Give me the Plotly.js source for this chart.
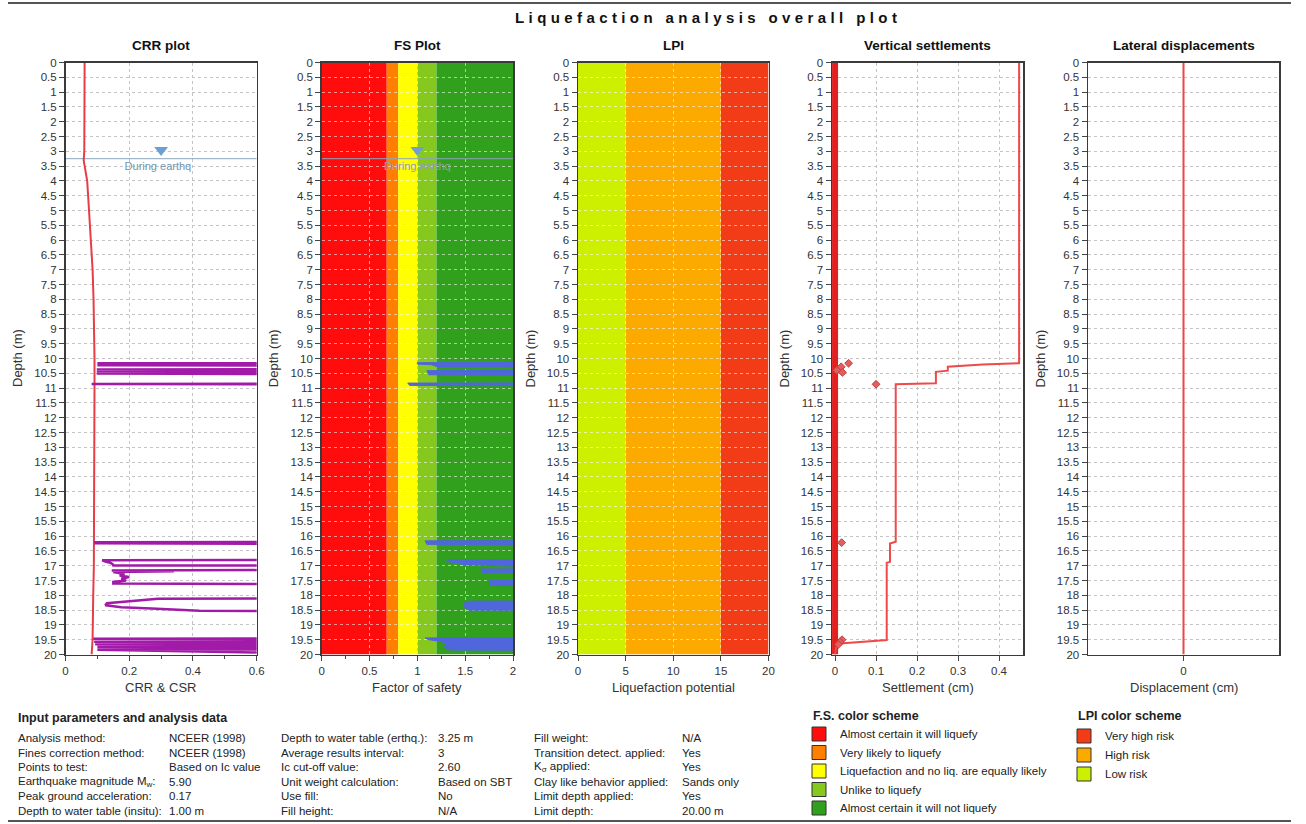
<!DOCTYPE html>
<html><head><meta charset="utf-8">
<script src="https://cdn.plot.ly/plotly-3.0.1.min.js"></script>
<style>html,body{margin:0;padding:0;background:#fff}#chart{width:1306px;height:824px}</style>
</head><body><div id="chart"></div>
<script>
// ---------------- data ----------------
const depthRange = [0, 20];
const waterTableDepth = 3.25;

// CSR (red line, CRR plot)
const csrDepth = [0, 0.5, 1, 2, 3, 3.3, 3.5, 3.8, 4, 4.5, 5, 5.5, 6, 7, 8, 9, 10, 11, 12, 14, 16, 17, 18, 19, 19.5, 20];
const csrValue = [0.060, 0.060, 0.059, 0.059, 0.059, 0.057, 0.060, 0.063, 0.068, 0.071, 0.074, 0.077, 0.081, 0.085, 0.088, 0.090, 0.091, 0.091, 0.091, 0.090, 0.090, 0.089, 0.087, 0.086, 0.085, 0.082];

// CRR (purple line, values beyond axis are off-chart)
const crrDepth = [10.00,10.155,10.16,10.175,10.215,10.225,10.245,
  10.36,10.37,10.40,10.43,10.44,10.47,10.50,10.51,10.53,
  10.85,10.86,10.88,
  16.19,16.21,16.24,16.28,
  16.80,16.82,16.86,16.90,16.95,16.99,17.00,
  17.14,17.16,17.19,17.21,17.28,17.33,17.38,17.44,17.50,17.55,17.60,17.63,
  18.10,18.12,18.20,18.27,18.34,18.40,18.45,18.49,18.52,18.55,
  19.45,19.47,19.50,19.55,19.57,19.60,19.63,19.65,19.69,19.73,19.75,19.79,19.82,19.84,19.86,20.00];
const crrValue = [1.0,1.0,0.100,1.0,1.0,0.100,1.0,
  1.0,0.098,1.0,1.0,0.098,1.0,1.0,0.098,1.0,
  1.0,0.082,1.0,
  1.0,0.094,0.094,1.0,
  1.0,0.115,0.125,0.140,0.148,0.150,1.0,
  1.0,0.145,0.340,0.150,0.185,0.170,0.200,0.175,0.190,0.150,0.150,1.0,
  1.0,0.290,0.200,0.130,0.125,0.175,0.270,0.370,0.420,1.0,
  1.0,0.087,1.0,1.0,0.090,1.0,1.0,0.093,1.0,1.0,0.100,1.0,1.0,0.100,1.0,1.0];

// Factor of safety (blue)
const fsDepth = [10.00,10.13,10.14,10.19,10.21,10.27,10.28,
  10.40,10.41,10.55,10.56,
  10.82,10.83,10.91,10.92,
  16.15,16.16,16.28,16.29,
  16.79,16.80,16.88,16.97,16.98,
  17.10,17.11,17.24,17.25,
  17.49,17.50,17.67,17.68,
  18.18,18.20,18.28,18.42,18.50,18.51,
  19.42,19.44,19.50,19.56,19.66,19.76,19.85,19.86,20.00];
const fsValue = [3,3,1.00,1.00,1.15,1.20,3,
  3,1.10,1.12,3,
  3,0.90,0.92,3,
  3,1.08,1.10,3,
  3,1.30,1.35,1.50,3,
  3,1.66,1.68,3,
  3,1.75,1.76,3,
  3,1.55,1.48,1.50,1.55,3,
  3,1.08,1.12,1.25,1.30,1.28,1.35,3,3];

// Vertical settlements
const settleDepth = [0, 10.16, 10.20, 10.25, 10.28, 10.41, 10.45, 10.84, 10.87, 16.19, 16.25, 16.87, 16.90, 19.51, 19.62, 19.70, 19.80, 20.0];
const settleValue = [0.449, 0.449, 0.360, 0.300, 0.275, 0.275, 0.246, 0.246, 0.148, 0.148, 0.134, 0.134, 0.126, 0.126, 0.020, 0.004, 0.002, 0.0];
const settleZeroDepth = [0, 20];
const settleZeroValue = [0, 0];
const settlePtDepth = [10.16, 10.28, 10.40, 10.47, 10.87, 16.22, 19.50, 19.58, 19.66];
const settlePtValue = [0.033, 0.015, 0.004, 0.018, 0.100, 0.016, 0.017, 0.012, 0.008];

// Lateral displacements
const lateralDepth = [0, 20];
const lateralValue = [0, 0];

// colour schemes
const fsBandEdges = [0, 0.68, 0.8, 1.0, 1.2, 2];
const fsBandColors = ['#ff0d0d', '#ff8000', '#ffff00', '#86c81e', '#31a01c'];
const fsLegendLabels = ['Almost certain it will liquefy', 'Very likely to liquefy', 'Liquefaction and no liq. are equally likely', 'Unlike to liquefy', 'Almost certain it will not liquefy'];
const lpiBandEdges = [0, 5, 15, 20];
const lpiBandColors = ['#ccf000', '#fdaa00', '#f23c18'];
const lpiLegendLabels = ['Very high risk', 'High risk', 'Low risk'];
const lpiLegendColors = ['#f23c18', '#fdaa00', '#ccf000'];

// text
const panelTitles = ['CRR plot', 'FS Plot', 'LPI', 'Vertical settlements', 'Lateral displacements'];
const xTitles = ['CRR & CSR', 'Factor of safety', 'Liquefaction potential', 'Settlement (cm)', 'Displacement (cm)'];
const paramLabels1 = ['Analysis method:', 'Fines correction method:', 'Points to test:', 'Earthquake magnitude M<sub>w</sub>:', 'Peak ground acceleration:', 'Depth to water table (insitu):'];
const paramValues1 = ['NCEER (1998)', 'NCEER (1998)', 'Based on Ic value', '5.90', '0.17', '1.00 m'];
const paramLabels2 = ['Depth to water table (erthq.):', 'Average results interval:', 'Ic cut-off value:', 'Unit weight calculation:', 'Use fill:', 'Fill height:'];
const paramValues2 = ['3.25 m', '3', '2.60', 'Based on SBT', 'No', 'N/A'];
const paramLabels3 = ['Fill weight:', 'Transition detect. applied:', 'K<sub>σ</sub> applied:', 'Clay like behavior applied:', 'Limit depth applied:', 'Limit depth:'];
const paramValues3 = ['N/A', 'Yes', 'Yes', 'Sands only', 'Yes', '20.00 m'];

// ---------------- layout helpers ----------------
const W = 1306, H = 824;
const FONT = '"Liberation Sans", Arial, sans-serif';
const TXT = '#222';
const px = x => x / W, py = y => 1 - y / H;
const panelsX = [[65.5, 256.7], [321.7, 513], [578, 768.5], [832, 1023], [1088, 1279]];
const plotTop = 62.5, plotBottom = 654.5;
const xRanges = [[0, 0.6], [0, 2], [0, 20], [-0.0075, 0.4585], [-1, 1]];
const xTickCfg = [
  {dtick: 0.2, minor: {dtick: 0.1, ticks: 'outside', ticklen: 3, tickcolor: '#444', showgrid: false}},
  {dtick: 0.5, minor: {dtick: 0.25, ticks: 'outside', ticklen: 3, tickcolor: '#444', showgrid: false}},
  {dtick: 5},
  {dtick: 0.1},
  {tickmode: 'array', tickvals: [0], ticktext: ['0']}
];
const colored = [false, true, true, false, false];

const layout = {
  width: W, height: H, margin: {l: 0, r: 0, t: 0, b: 0},
  paper_bgcolor: '#fff', plot_bgcolor: '#fff', showlegend: false,
  font: {family: FONT, size: 11.5, color: '#333'},
  shapes: [], annotations: []
};

panelsX.forEach((p, i) => {
  const s = i === 0 ? '' : String(i + 1);
  const gc = colored[i] ? 'rgba(255,255,255,0.55)' : '#c4c4c4';
  layout['xaxis' + s] = Object.assign({
    domain: [px(p[0]), px(p[1])], anchor: 'y' + s, range: xRanges[i],
    showline: true, mirror: true, linecolor: '#3a3a3a', linewidth: 1.5,
    ticks: 'outside', ticklen: 5, tickcolor: '#444', zeroline: false,
    showgrid: i !== 4, gridcolor: gc, griddash: 'dot', gridwidth: 1,
    tickfont: {family: FONT, size: 11.5, color: '#333'}, fixedrange: true
  }, xTickCfg[i]);
  layout['yaxis' + s] = {
    domain: [py(plotBottom), py(plotTop)], anchor: 'x' + s, range: [depthRange[1], depthRange[0]],
    showline: true, mirror: true, linecolor: '#3a3a3a', linewidth: 1.5,
    ticks: 'outside', ticklen: 5, tickcolor: '#444', dtick: 0.5, zeroline: false,
    showgrid: true, gridcolor: gc, griddash: 'dot', gridwidth: 1,
    tickfont: {family: FONT, size: 11.5, color: '#333'}, fixedrange: true
  };
  const cx = (p[0] + p[1]) / 2;
  layout.annotations.push({text: panelTitles[i], x: px(cx), y: py(45), xref: 'paper', yref: 'paper', showarrow: false, xanchor: 'center', yanchor: 'middle', font: {family: FONT, size: 13.5, color: '#111', weight: 'bold'}});
  layout.annotations.push({text: xTitles[i], x: px(cx), y: py(687), xref: 'paper', yref: 'paper', showarrow: false, xanchor: 'center', yanchor: 'middle', font: {family: FONT, size: 13, color: '#333'}});
  layout.annotations.push({text: 'Depth (m)', x: px(p[0] - 48), y: py((plotTop + plotBottom) / 2), xref: 'paper', yref: 'paper', showarrow: false, textangle: -90, xanchor: 'center', yanchor: 'middle', font: {family: FONT, size: 13, color: '#333'}});
});

// colour bands
for (let i = 0; i < fsBandColors.length; i++) {
  layout.shapes.push({type: 'rect', xref: 'x2', yref: 'y2', x0: fsBandEdges[i], x1: fsBandEdges[i + 1], y0: depthRange[0], y1: depthRange[1], fillcolor: fsBandColors[i], line: {width: 0}, layer: 'below'});
}
for (let i = 0; i < lpiBandColors.length; i++) {
  layout.shapes.push({type: 'rect', xref: 'x3', yref: 'y3', x0: lpiBandEdges[i], x1: lpiBandEdges[i + 1], y0: depthRange[0], y1: depthRange[1], fillcolor: lpiBandColors[i], line: {width: 0}, layer: 'below'});
}

// frame lines
layout.shapes.push({type: 'line', xref: 'paper', yref: 'paper', x0: px(8), x1: px(1291), y0: py(3), y1: py(3), line: {color: '#555', width: 2}});
layout.shapes.push({type: 'line', xref: 'paper', yref: 'paper', x0: px(8), x1: px(1291), y0: py(821), y1: py(821), line: {color: '#555', width: 2}});

// main title
layout.annotations.push({text: '<span style="letter-spacing:4.4px">Liquefaction analysis overall plot</span>', x: px(708), y: py(18), xref: 'paper', yref: 'paper', showarrow: false, xanchor: 'center', yanchor: 'middle', font: {family: FONT, size: 15, color: '#111', weight: 'bold'}});

// parameters block
function txt(t, x, y, size, bold) {
  layout.annotations.push({text: t, x: px(x), y: py(y), xref: 'paper', yref: 'paper', showarrow: false, xanchor: 'left', yanchor: 'middle', font: {family: FONT, size: size || 11.5, color: TXT, weight: bold ? 'bold' : 'normal'}});
}
txt('Input parameters and analysis data', 16, 718, 12.5, true);
const rowY = [738, 752.5, 767, 781.5, 796, 810.5];
rowY.forEach((y, r) => {
  txt(paramLabels1[r], 16, y); txt(paramValues1[r], 167, y);
  txt(paramLabels2[r], 279, y); txt(paramValues2[r], 436, y);
  txt(paramLabels3[r], 532, y); txt(paramValues3[r], 680, y);
});

// FS legend
txt('F.S. color scheme', 811, 716, 12.5, true);
const fsRowY = [734, 752.5, 771, 789.5, 808];
fsRowY.forEach((y, r) => {
  layout.shapes.push({type: 'rect', xref: 'paper', yref: 'paper', x0: px(812), x1: px(826), y0: py(y - 7), y1: py(y + 7), fillcolor: fsBandColors[r], line: {color: '#333', width: 1}});
  txt(fsLegendLabels[r], 838, y);
});
// LPI legend
txt('LPI color scheme', 1076, 716, 12.5, true);
const lpiRowY = [736, 755, 774];
lpiRowY.forEach((y, r) => {
  layout.shapes.push({type: 'rect', xref: 'paper', yref: 'paper', x0: px(1077), x1: px(1091), y0: py(y - 7), y1: py(y + 7), fillcolor: lpiLegendColors[r], line: {color: '#333', width: 1}});
  txt(lpiLegendLabels[r], 1103, y);
});

// ---------------- traces ----------------
const wtColor = '#8aa6bd';
const traces = [
  // CRR plot
  {x: [xRanges[0][0], xRanges[0][1]], y: [waterTableDepth, waterTableDepth], xaxis: 'x', yaxis: 'y', mode: 'lines', line: {color: wtColor, width: 1}},
  {x: csrValue, y: csrDepth, xaxis: 'x', yaxis: 'y', mode: 'lines', line: {color: '#e83c46', width: 2}},
  {x: crrValue, y: crrDepth, xaxis: 'x', yaxis: 'y', mode: 'lines', line: {color: '#a21aa8', width: 2.5}},
  {x: [0.30], y: [2.96], xaxis: 'x', yaxis: 'y', mode: 'markers', marker: {symbol: 'triangle-down', size: 12, color: '#6f9fd2'}},
  {x: [0.29], y: [3.55], xaxis: 'x', yaxis: 'y', mode: 'text', text: ['During earthq'], textfont: {family: FONT, size: 11, color: '#6f95b5'}},
  // FS plot
  {x: fsValue, y: fsDepth, xaxis: 'x2', yaxis: 'y2', mode: 'lines', fill: 'toself', fillcolor: '#5066dc', line: {color: '#5066dc', width: 1}},
  {x: [xRanges[1][0], xRanges[1][1]], y: [waterTableDepth, waterTableDepth], xaxis: 'x2', yaxis: 'y2', mode: 'lines', line: {color: wtColor, width: 1}},
  {x: [1.0], y: [2.96], xaxis: 'x2', yaxis: 'y2', mode: 'markers', marker: {symbol: 'triangle-down', size: 12, color: '#6f9fd2'}},
  {x: [1.0], y: [3.55], xaxis: 'x2', yaxis: 'y2', mode: 'text', text: ['During earthq'], textfont: {family: FONT, size: 11, color: '#8fa0b0'}},
  // LPI (axis holder)
  {x: [], y: [], xaxis: 'x3', yaxis: 'y3', mode: 'lines'},
  // Settlements
  {x: settleZeroValue, y: settleZeroDepth, xaxis: 'x4', yaxis: 'y4', mode: 'lines', line: {color: '#e32020', width: 6}},
  {x: settleValue, y: settleDepth, xaxis: 'x4', yaxis: 'y4', mode: 'lines', line: {color: '#ee4a4a', width: 2}},
  {x: settlePtValue, y: settlePtDepth, xaxis: 'x4', yaxis: 'y4', mode: 'markers', marker: {symbol: 'diamond', size: 6, color: '#e06060', line: {color: '#c83c3c', width: 1}}},
  // Lateral
  {x: lateralValue, y: lateralDepth, xaxis: 'x5', yaxis: 'y5', mode: 'lines', line: {color: '#e84848', width: 2}}
];

Plotly.newPlot('chart', traces, layout, {staticPlot: true, displayModeBar: false});
</script></body></html>
